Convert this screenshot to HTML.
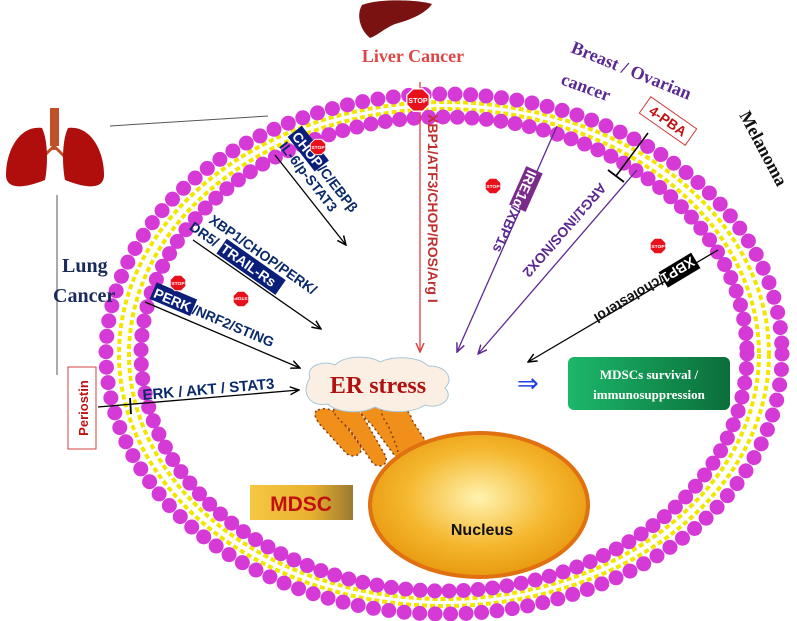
<!DOCTYPE html>
<html><head><meta charset="utf-8"><style>
html,body{margin:0;padding:0;background:#fff;}
svg{display:block;}
.s{font-family:"Liberation Serif",serif;font-weight:bold;}
.a{font-family:"Liberation Sans",sans-serif;font-weight:bold;}
</style></head><body>
<svg width="797" height="621" viewBox="0 0 797 621" xmlns="http://www.w3.org/2000/svg">
<defs>
<marker id="ab" markerWidth="10" markerHeight="10" refX="9" refY="5" orient="auto" markerUnits="userSpaceOnUse"><path d="M0,1 L9,5 L0,9" fill="none" stroke="#000" stroke-width="1.5"/></marker>
<marker id="ap" markerWidth="10" markerHeight="10" refX="9" refY="5" orient="auto" markerUnits="userSpaceOnUse"><path d="M0,1 L9,5 L0,9" fill="none" stroke="#5b2a91" stroke-width="1.5"/></marker>
<marker id="ar" markerWidth="10" markerHeight="10" refX="9" refY="5" orient="auto" markerUnits="userSpaceOnUse"><path d="M0,1 L9,5 L0,9" fill="none" stroke="#e04040" stroke-width="1.5"/></marker>
<radialGradient id="nuc" cx="50%" cy="45%" r="55%"><stop offset="0" stop-color="#fff3b0"/><stop offset="0.6" stop-color="#f5b830"/><stop offset="1" stop-color="#e89a10"/></radialGradient>
<linearGradient id="md" x1="0" x2="1"><stop offset="0" stop-color="#f5c842"/><stop offset="0.6" stop-color="#e8b030"/><stop offset="1" stop-color="#9a7a30"/></linearGradient>
<linearGradient id="gr" x1="0" x2="1"><stop offset="0" stop-color="#1cb86a"/><stop offset="1" stop-color="#0b6e3a"/></linearGradient>
<g id="stop"><polygon points="-3,-7 3,-7 7,-3 7,3 3,7 -3,7 -7,3 -7,-3" fill="#e8101a" stroke="#fff" stroke-width="0.8"/><text x="0" y="2" font-size="4.5" fill="#fff" text-anchor="middle" class="a">STOP</text></g>
</defs>

<!-- membrane -->
<ellipse cx="444" cy="354" rx="325" ry="252" fill="none" stroke="#f2e600" stroke-width="4" stroke-dasharray="5 3"/>
<ellipse cx="444" cy="354" rx="315" ry="245" fill="none" stroke="#f2e600" stroke-width="4" stroke-dasharray="5 3"/>
<ellipse cx="444" cy="354" rx="338" ry="260" fill="none" stroke="#d63ad6" stroke-width="15" stroke-linecap="round" stroke-dasharray="0 15.5"/>
<ellipse cx="444" cy="354" rx="303" ry="237" fill="none" stroke="#d63ad6" stroke-width="15" stroke-linecap="round" stroke-dasharray="0 14.5"/>

<!-- lungs -->
<rect x="50" y="108" width="9" height="38" fill="#c0502a"/>
<path d="M54,140 L54,150 M54,146 L40,160 M54,146 L68,160" stroke="#c0502a" stroke-width="3" fill="none"/>
<path d="M42,128 C20,125 6,150 6,175 C6,188 20,190 45,180 C48,165 48,140 42,128Z" fill="#b00d0d"/>
<path d="M68,128 C90,125 104,150 104,175 C104,188 90,190 65,180 C62,165 62,140 68,128Z" fill="#b00d0d"/>
<line x1="110" y1="126" x2="268" y2="116" stroke="#555" stroke-width="1"/>
<line x1="57" y1="195" x2="57" y2="375" stroke="#555" stroke-width="1"/>
<text class="s" x="62" y="272" font-size="20" fill="#1a2a5a">Lung</text>
<text class="s" x="53" y="302" font-size="20" fill="#1a2a5a">Cancer</text>

<!-- liver -->
<path d="M362,5 C380,-2 420,0 432,4 C425,14 410,20 395,24 C385,28 378,35 370,38 C360,30 356,15 362,5Z" fill="#7a1212"/>
<text class="s" x="413" y="62" font-size="18" fill="#e04545" text-anchor="middle">Liver Cancer</text>
<line x1="420" y1="82" x2="420" y2="352" stroke="#e04040" stroke-width="1.3" marker-end="url(#ar)"/>
<use href="#stop" transform="translate(418,100) scale(1.6)"/>
<text class="a" transform="translate(428,114) rotate(90)" font-size="14" fill="#c03030">XBP1/ATF3/CHOP/ROS/Arg I</text>

<!-- breast -->
<text class="s" transform="translate(570,52) rotate(22)" font-size="18" fill="#5b2a91">Breast / Ovarian</text>
<text class="s" transform="translate(560,84) rotate(20)" font-size="18" fill="#5b2a91">cancer</text>
<g transform="translate(668,121) rotate(35)"><rect x="-28" y="-10" width="56" height="20" fill="#fff" stroke="#d04040" stroke-width="1"/><text class="a" x="0" y="5" font-size="14" fill="#c01010" text-anchor="middle">4-PBA</text></g>
<line x1="648" y1="133" x2="616" y2="176" stroke="#000" stroke-width="1.5"/>
<line x1="608" y1="170" x2="624" y2="182" stroke="#000" stroke-width="1.8"/>
<line x1="557" y1="126" x2="457" y2="352" stroke="#5b2a91" stroke-width="1.3" marker-end="url(#ap)"/>
<line x1="637" y1="170" x2="478" y2="354" stroke="#5b2a91" stroke-width="1.3" marker-end="url(#ap)"/>
<g transform="translate(530,170) rotate(114)"><rect x="-2" y="-13" width="42" height="18" fill="#7a2a8a"/><text class="a" x="0" y="2" font-size="14" fill="#fff">IRE1α</text><text class="a" x="40" y="2" font-size="14" fill="#5b2a91">/XBP1s</text></g>
<use href="#stop" transform="translate(493,186) scale(1.1)"/>
<text class="a" transform="translate(600,182) rotate(131)" font-size="14" fill="#5b2a91">ARG1/iNOS/NOX2</text>

<!-- melanoma -->
<text class="s" transform="translate(739,115) rotate(62)" font-size="18" fill="#111">Melanoma</text>
<line x1="718" y1="250" x2="528" y2="362" stroke="#000" stroke-width="1.3" marker-end="url(#ab)"/>
<g transform="translate(692,258) rotate(149)"><rect x="-2" y="-13" width="38" height="18" fill="#000"/><text class="a" x="0" y="2" font-size="14" fill="#fff">XBP1</text><text class="a" x="36" y="2" font-size="14" fill="#111">/cholesterol</text></g>
<use href="#stop" transform="translate(658,246) scale(1.1)"/>

<!-- left arrows -->
<line x1="275" y1="155" x2="346" y2="245" stroke="#000" stroke-width="1.3" marker-end="url(#ab)"/>
<g transform="translate(292,136) rotate(52)"><rect x="-2" y="-14" width="44" height="18" fill="#0a1f7a"/><text class="a" x="0" y="1" font-size="14" fill="#fff">CHOP</text><text class="a" x="42" y="1" font-size="14" fill="#0a2a6a">/C/EBPβ</text><text class="a" x="0" y="17" font-size="14" fill="#0a2a6a">IL-6/p-STAT3</text></g>
<use href="#stop" transform="translate(318,147) scale(1.1)"/>

<line x1="193" y1="240" x2="321" y2="329" stroke="#000" stroke-width="1.3" marker-end="url(#ab)"/>
<g transform="translate(208,222) rotate(35)"><text class="a" x="0" y="0" font-size="14" fill="#0a2a6a">XBP1/CHOP/PERK/</text><text class="a" x="-12" y="17" font-size="14" fill="#0a2a6a">DR5/</text><rect x="25" y="3" width="72" height="18" fill="#0a1f7a"/><text class="a" x="26" y="17" font-size="14" fill="#fff">TRAIL-Rs</text></g>
<use href="#stop" transform="translate(241,299) scale(1.1) rotate(180)"/>

<line x1="145" y1="302" x2="300" y2="368" stroke="#000" stroke-width="1.3" marker-end="url(#ab)"/>
<g transform="translate(153,296) rotate(23)"><rect x="-2" y="-14" width="44" height="18" fill="#0a1f7a"/><text class="a" x="0" y="1" font-size="14" fill="#fff">PERK</text><text class="a" x="42" y="1" font-size="14" fill="#0a2a6a">/NRF2/STING</text></g>
<use href="#stop" transform="translate(178,283) scale(1.1)"/>

<line x1="98" y1="407" x2="299" y2="390" stroke="#000" stroke-width="1.3" marker-end="url(#ab)"/>
<line x1="130" y1="398" x2="131" y2="414" stroke="#000" stroke-width="1.8"/>
<text class="a" transform="translate(143,400) rotate(-5)" font-size="15" fill="#0a2a6a">ERK / AKT / STAT3</text>
<g transform="translate(83,408) rotate(-90)"><rect x="-41" y="-15" width="82" height="28" fill="#fff" stroke="#d04040" stroke-width="1"/><text class="a" x="0" y="5" font-size="13" fill="#c01010" text-anchor="middle">Periostin</text></g>

<!-- ER -->
<g fill="#f0901a" stroke="#8a3a10" stroke-width="1.5" stroke-dasharray="2 3">
<path d="M318,410 C330,405 340,415 345,425 L360,445 C365,455 352,460 345,452 L325,430 C315,420 312,412 318,410Z"/>
<path d="M335,408 C348,400 360,410 365,420 L385,455 C390,465 378,470 372,462 L350,430 C340,420 330,412 335,408Z"/>
<path d="M360,405 C372,398 385,410 390,420 L405,445 C410,458 398,462 392,452 L372,425 C362,415 355,408 360,405Z"/>
<path d="M385,405 C398,400 410,410 412,420 L425,440 L408,465 C400,468 395,460 398,450 L388,425 C380,415 380,408 385,405Z"/>
</g>
<!-- nucleus -->
<ellipse cx="479" cy="505" rx="109" ry="72" fill="url(#nuc)" stroke="#e07010" stroke-width="4"/>
<text class="a" x="482" y="535" font-size="16" fill="#111" text-anchor="middle">Nucleus</text>

<!-- ER stress cloud -->
<path d="M310,378 C305,365 325,360 335,365 C345,355 370,355 380,362 C395,355 420,357 428,366 C445,365 455,378 445,388 C455,398 440,410 425,405 C410,415 385,412 375,407 C360,415 335,412 328,404 C310,408 300,392 310,378Z" fill="#fbefe4" stroke="#a8c8d8" stroke-width="1"/>
<text class="s" x="378" y="393" font-size="24" fill="#b01010" text-anchor="middle">ER stress</text>

<!-- arrow to box -->
<text x="517" y="392" font-size="26" fill="#2040e0" font-family="DejaVu Sans, sans-serif">⇒</text>
<rect x="568" y="357" width="162" height="53" rx="6" fill="url(#gr)"/>
<text class="s" x="649" y="379" font-size="13" fill="#fff" text-anchor="middle">MDSCs survival /</text>
<text class="s" x="649" y="399" font-size="13" fill="#fff" text-anchor="middle">immunosuppression</text>

<!-- MDSC box -->
<rect x="250" y="485" width="103" height="35" fill="url(#md)"/>
<text class="a" x="301" y="511" font-size="21" fill="#c01010" text-anchor="middle">MDSC</text>
</svg>
</body></html>
